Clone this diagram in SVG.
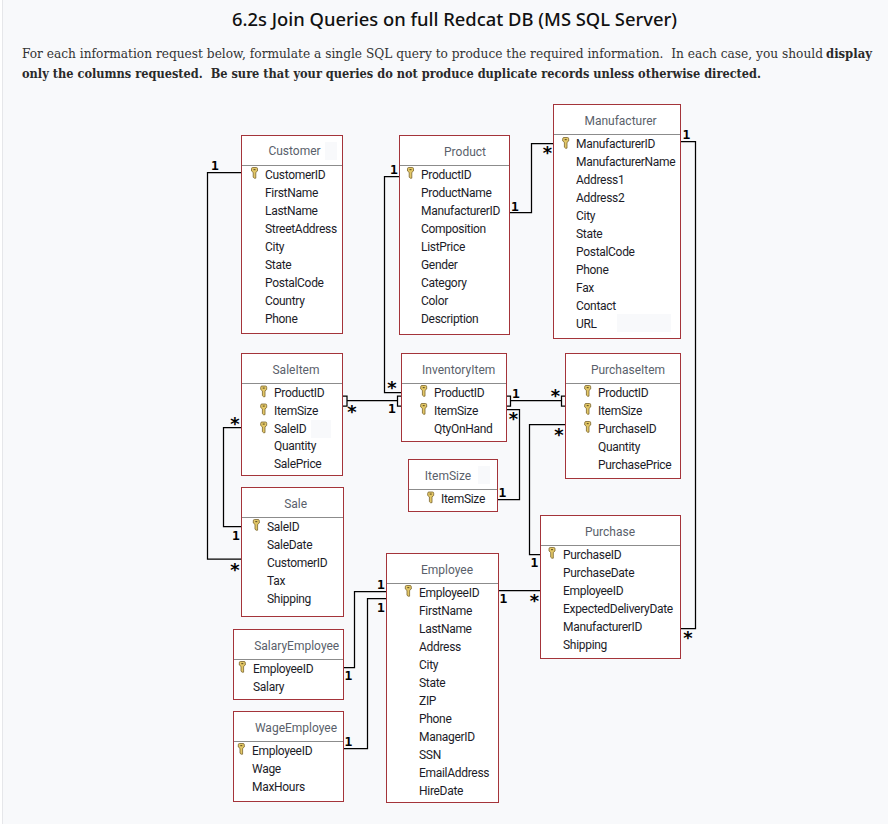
<svg xmlns="http://www.w3.org/2000/svg" xmlns:xlink="http://www.w3.org/1999/xlink" width="888" height="824" viewBox="0 0 888 824">
<style>
.bg{fill:#f8f9fb}
.tb{fill:#fff;stroke:#a4343a;stroke-width:1}
.hl{stroke:#8c8c8c;stroke-width:1;fill:none}
.patch{fill:#f8f9fb}
text{font-family:Roboto,"Open Sans","Liberation Sans",sans-serif}
.t{font-size:12px;fill:#5a5f6b;text-anchor:middle}
.r{font-size:12px;letter-spacing:-0.3px;fill:#1c1c28}
.c{fill:none;stroke:#000;stroke-width:1.25}
.one{font-family:"DejaVu Sans Mono","Liberation Mono",monospace;font-weight:700;font-size:13px;fill:#000;text-anchor:middle}
.star{font-family:"DejaVu Sans Mono","Liberation Mono",monospace;font-weight:700;font-size:18px;fill:#000;text-anchor:middle}
.h1{font-family:"Noto Sans",sans-serif;font-size:18px;font-weight:500;fill:#111}
.p{font-family:"DejaVu Serif","Liberation Serif",serif;font-size:12.2px;fill:#333}
.b{font-weight:700;fill:#2a2a2a}
</style>
<defs>
<g id="key">
<path d="M-3 -4.2Q-3 -5.5 -1.8 -5.5H1.8Q3 -5.5 3 -4.2V-2L1.3 -0.6V5.2H-0.2L-1.3 4.2V-0.6L-3 -2Z" fill="#e3c766" stroke="#7a6430" stroke-width="0.8"/>
<rect x="-1" y="-4" width="2" height="1.2" fill="#6b5a2a"/>
</g>
</defs>
<rect class="bg" x="3" y="0" width="885" height="824"/>
<rect x="0" y="0" width="3" height="824" fill="#fff"/>
<rect x="2" y="0" width="1" height="824" fill="#e6e7ea"/>
<g id="heading">
<text class="h1" x="232" y="26" textLength="445" lengthAdjust="spacingAndGlyphs">6.2s Join Queries on full Redcat DB (MS SQL Server)</text>
<text class="p" x="22" y="58" textLength="801" lengthAdjust="spacingAndGlyphs" xml:space="preserve">For each information request below, formulate a single SQL query to produce the required information.  In each case, you should</text>
<text class="p b" x="826" y="58" textLength="46" lengthAdjust="spacingAndGlyphs">display</text>
<text class="p b" x="22" y="78" textLength="739" lengthAdjust="spacingAndGlyphs" xml:space="preserve">only the columns requested.  Be sure that your queries do not produce duplicate records unless otherwise directed.</text>
</g>
<g id="connectors">
<path class="c" d="M241 172.5H207.5V559H241"/>
<path class="c" d="M399 176.5H384.5V392.5H401"/>
<path class="c" d="M510 212.5H531.5V143.5H553"/>
<path class="c" d="M681 141.5H695.5V628.5H681"/>
<path class="c" d="M347 400.5H397"/>
<path class="c" d="M343 396H347V406H343"/>
<path class="c" d="M401 396H397.5V406H401"/>
<path class="c" d="M510.5 400.5H561.5"/>
<path class="c" d="M507 396H510.5V406H507"/>
<path class="c" d="M565 396H561.5V406H565"/>
<path class="c" d="M507 409.5H519.5V499.5H498"/>
<path class="c" d="M565 424.5H529.5V554.5H540"/>
<path class="c" d="M241 427.5H223.5V526.5H241"/>
<path class="c" d="M499 590.5H540"/>
<path class="c" d="M344 667.5H354.5V591.5H386"/>
<path class="c" d="M344 748.5H367.5V598.5H386"/>
<text class="one" x="215" y="170">1</text><text class="star" x="235" y="576">*</text>
<text class="one" x="394" y="174">1</text><text class="star" x="392" y="394">*</text>
<text class="one" x="515" y="211">1</text><text class="star" x="547.5" y="159">*</text>
<text class="one" x="686.5" y="139">1</text><text class="star" x="688" y="644">*</text>
<text class="star" x="352" y="418">*</text><text class="one" x="392" y="413">1</text>
<text class="one" x="516" y="398">1</text><text class="star" x="555.5" y="402">*</text>
<text class="star" x="513.5" y="425">*</text><text class="one" x="502.5" y="497">1</text>
<text class="star" x="559" y="441">*</text><text class="one" x="534.5" y="567">1</text>
<text class="star" x="235" y="430">*</text><text class="one" x="236" y="540">1</text>
<text class="one" x="503.5" y="603">1</text><text class="star" x="534.5" y="607">*</text>
<text class="one" x="348.5" y="680">1</text><text class="one" x="381" y="589">1</text>
<text class="one" x="348.5" y="746">1</text><text class="one" x="381" y="612">1</text>
</g>
<g id="customer">
<rect class="tb" x="241.5" y="135.5" width="101" height="198"/>
<path class="hl" d="M242 165.5H342"/>
<rect class="patch" x="325" y="142" width="12" height="18"/>
<text class="t" x="294.5" y="155">Customer</text>
<use xlink:href="#key" href="#key" x="254.5" y="173"/>
<text class="r" x="265" y="179">CustomerID</text>
<text class="r" x="265" y="197">FirstName</text>
<text class="r" x="265" y="215">LastName</text>
<text class="r" x="265" y="233">StreetAddress</text>
<text class="r" x="265" y="251">City</text>
<text class="r" x="265" y="269">State</text>
<text class="r" x="265" y="287">PostalCode</text>
<text class="r" x="265" y="305">Country</text>
<text class="r" x="265" y="323">Phone</text>
</g>
<g id="product">
<rect class="tb" x="399.5" y="135.5" width="110" height="199"/>
<path class="hl" d="M400 165.5H509"/>
<text class="t" x="465" y="156">Product</text>
<use xlink:href="#key" href="#key" x="410.5" y="173"/>
<text class="r" x="421" y="179">ProductID</text>
<text class="r" x="421" y="197">ProductName</text>
<text class="r" x="421" y="215">ManufacturerID</text>
<text class="r" x="421" y="233">Composition</text>
<text class="r" x="421" y="251">ListPrice</text>
<text class="r" x="421" y="269">Gender</text>
<text class="r" x="421" y="287">Category</text>
<text class="r" x="421" y="305">Color</text>
<text class="r" x="421" y="323">Description</text>
</g>
<g id="manufacturer">
<rect class="tb" x="553.5" y="104.5" width="127" height="234"/>
<path class="hl" d="M554 134.5H680"/>
<rect class="patch" x="617" y="314" width="54" height="18"/>
<text class="t" x="620.5" y="125">Manufacturer</text>
<use xlink:href="#key" href="#key" x="565.7" y="143"/>
<text class="r" x="576" y="148">ManufacturerID</text>
<text class="r" x="576" y="166">ManufacturerName</text>
<text class="r" x="576" y="184">Address1</text>
<text class="r" x="576" y="202">Address2</text>
<text class="r" x="576" y="220">City</text>
<text class="r" x="576" y="238">State</text>
<text class="r" x="576" y="256">PostalCode</text>
<text class="r" x="576" y="274">Phone</text>
<text class="r" x="576" y="292">Fax</text>
<text class="r" x="576" y="310">Contact</text>
<text class="r" x="576" y="328">URL</text>
</g>
<g id="saleitem">
<rect class="tb" x="241.5" y="353.5" width="101" height="122"/>
<path class="hl" d="M242 383.5H342"/>
<rect class="patch" x="311" y="420" width="20" height="18"/>
<text class="t" x="296" y="374">SaleItem</text>
<use xlink:href="#key" href="#key" x="263.7" y="391.5"/>
<use xlink:href="#key" href="#key" x="263.7" y="409.5"/>
<use xlink:href="#key" href="#key" x="263.7" y="427.5"/>
<text class="r" x="274" y="397">ProductID</text>
<text class="r" x="274" y="415">ItemSize</text>
<text class="r" x="274" y="433">SaleID</text>
<text class="r" x="274" y="450">Quantity</text>
<text class="r" x="274" y="468">SalePrice</text>
</g>
<g id="inventoryitem">
<rect class="tb" x="401.5" y="353.5" width="105" height="88"/>
<path class="hl" d="M402 383.5H506"/>
<text class="t" x="458.7" y="374">InventoryItem</text>
<use xlink:href="#key" href="#key" x="423.7" y="391"/>
<use xlink:href="#key" href="#key" x="423.7" y="409"/>
<text class="r" x="434" y="397">ProductID</text>
<text class="r" x="434" y="415">ItemSize</text>
<text class="r" x="434" y="433">QtyOnHand</text>
</g>
<g id="itemsize">
<rect class="tb" x="408.5" y="459.5" width="89" height="52"/>
<path class="hl" d="M409 489.5H497"/>
<rect class="patch" x="478" y="466" width="12" height="18"/>
<text class="t" x="448" y="480">ItemSize</text>
<use xlink:href="#key" href="#key" x="430.7" y="497.5"/>
<text class="r" x="441" y="503">ItemSize</text>
</g>
<g id="sale">
<rect class="tb" x="241.5" y="487.5" width="102" height="129"/>
<path class="hl" d="M242 517.5H343"/>
<text class="t" x="295.7" y="508">Sale</text>
<use xlink:href="#key" href="#key" x="256.3" y="525"/>
<text class="r" x="267" y="531">SaleID</text>
<text class="r" x="267" y="549">SaleDate</text>
<text class="r" x="267" y="567">CustomerID</text>
<text class="r" x="267" y="585">Tax</text>
<text class="r" x="267" y="603">Shipping</text>
</g>
<g id="purchaseitem">
<rect class="tb" x="565.5" y="353.5" width="115" height="125"/>
<path class="hl" d="M566 383.5H680"/>
<text class="t" x="628" y="374">PurchaseItem</text>
<use xlink:href="#key" href="#key" x="587.7" y="391"/>
<use xlink:href="#key" href="#key" x="587.7" y="409"/>
<use xlink:href="#key" href="#key" x="587.7" y="427"/>
<text class="r" x="598" y="397">ProductID</text>
<text class="r" x="598" y="415">ItemSize</text>
<text class="r" x="598" y="433">PurchaseID</text>
<text class="r" x="598" y="451">Quantity</text>
<text class="r" x="598" y="469">PurchasePrice</text>
</g>
<g id="purchase">
<rect class="tb" x="540.5" y="515.5" width="140" height="143"/>
<path class="hl" d="M541 545.5H680"/>
<text class="t" x="610" y="536">Purchase</text>
<use xlink:href="#key" href="#key" x="552" y="553"/>
<text class="r" x="563" y="559">PurchaseID</text>
<text class="r" x="563" y="577">PurchaseDate</text>
<text class="r" x="563" y="595">EmployeeID</text>
<text class="r" x="563" y="613">ExpectedDeliveryDate</text>
<text class="r" x="563" y="631">ManufacturerID</text>
<text class="r" x="563" y="649">Shipping</text>
</g>
<g id="employee">
<rect class="tb" x="386.5" y="553.5" width="112" height="249"/>
<path class="hl" d="M387 583.5H498"/>
<text class="t" x="447" y="574">Employee</text>
<use xlink:href="#key" href="#key" x="408.3" y="591"/>
<text class="r" x="419" y="597">EmployeeID</text>
<text class="r" x="419" y="615">FirstName</text>
<text class="r" x="419" y="633">LastName</text>
<text class="r" x="419" y="651">Address</text>
<text class="r" x="419" y="669">City</text>
<text class="r" x="419" y="687">State</text>
<text class="r" x="419" y="705">ZIP</text>
<text class="r" x="419" y="723">Phone</text>
<text class="r" x="419" y="741">ManagerID</text>
<text class="r" x="419" y="759">SSN</text>
<text class="r" x="419" y="777">EmailAddress</text>
<text class="r" x="419" y="795">HireDate</text>
</g>
<g id="salaryemployee">
<rect class="tb" x="233.5" y="629.5" width="110" height="70"/>
<path class="hl" d="M234 659.5H343"/>
<text class="t" x="296.7" y="650">SalaryEmployee</text>
<use xlink:href="#key" href="#key" x="242.3" y="667"/>
<text class="r" x="253" y="673">EmployeeID</text>
<text class="r" x="253" y="691">Salary</text>
</g>
<g id="wageemployee">
<rect class="tb" x="233.5" y="711.5" width="110" height="90"/>
<path class="hl" d="M234 741.5H343"/>
<text class="t" x="296" y="732">WageEmployee</text>
<use xlink:href="#key" href="#key" x="241.3" y="749"/>
<text class="r" x="252" y="755">EmployeeID</text>
<text class="r" x="252" y="773">Wage</text>
<text class="r" x="252" y="791">MaxHours</text>
</g>
</svg>
